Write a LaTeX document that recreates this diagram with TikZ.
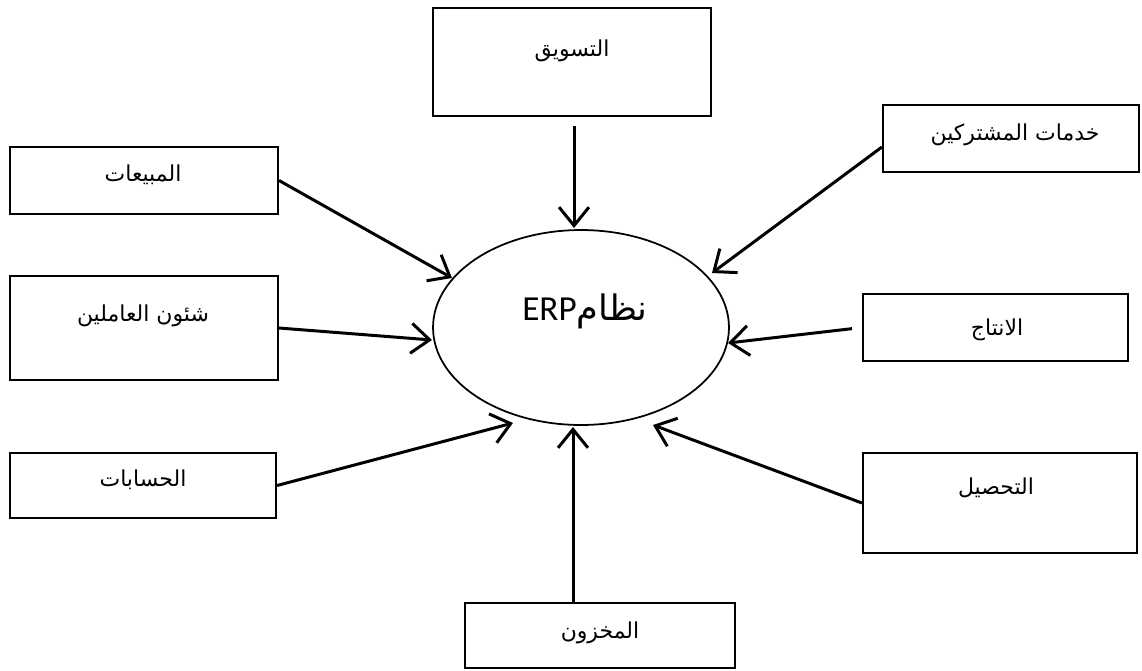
\documentclass[tikz,border=0pt]{standalone}
\usepackage{fontspec}
\setmainfont{Liberation Sans}
\newfontfamily\arabicfont[Script=Arabic]{DejaVu Sans}
\newfontfamily\latinfont{Carlito}
\TeXXeTstate=1
\usetikzlibrary{arrows.meta,shapes.geometric,fit}
\begin{document}
\begin{tikzpicture}[x=0.02cm,y=-0.02cm,
  box/.style={draw, line width=1.2pt, inner sep=0pt, fit=#1},
  lbl/.style={font=\arabicfont\fontsize{12.5}{15}\selectfont, inner sep=0pt},
  arr/.style={line width=1.7pt, -{Straight Barb[length=10.5pt,width=17pt,line width=1.7pt]}},
]
\useasboundingbox (0,0) rectangle (1142,670);

% central ellipse
\node[draw, ellipse, line width=1pt, minimum width=5.92cm, minimum height=3.9cm,
      inner sep=0pt] (erp) at (581,327.5) {};
\node[inner sep=0pt, font=\fontsize{20}{24}\selectfont] (erptext) at (585,311)
  {\arabicfont\beginR نظام\beginL\latinfont ERP\endL\endR};

% department boxes
\coordinate (mktA) at (433,8);    \coordinate (mktB) at (711,116);
\coordinate (svcA) at (883,105);  \coordinate (svcB) at (1139,172);
\coordinate (salA) at (10,147);   \coordinate (salB) at (278,214);
\coordinate (hrA)  at (10,276);   \coordinate (hrB)  at (278,380);
\coordinate (accA) at (10,453);   \coordinate (accB) at (276,518);
\coordinate (prdA) at (863,294);  \coordinate (prdB) at (1128,361);
\coordinate (colA) at (863,453);  \coordinate (colB) at (1137,553);
\coordinate (invA) at (465,603);  \coordinate (invB) at (735,668);

\node[box={(mktA)(mktB)}] (mkt) {};
\node[box={(svcA)(svcB)}] (svc) {};
\node[box={(salA)(salB)}] (sales) {};
\node[box={(hrA)(hrB)}] (hr) {};
\node[box={(accA)(accB)}] (acc) {};
\node[box={(prdA)(prdB)}] (prod) {};
\node[box={(colA)(colB)}] (coll) {};
\node[box={(invA)(invB)}] (inv) {};

% box captions
\node[lbl] (mkttext) at (572,51)   {\beginR التسويق\endR};
\node[lbl] (svctext) at (1015,135) {\beginR خدمات المشتركين\endR};
\node[lbl] (saltext) at (143,175)  {\beginR المبيعات\endR};
\node[lbl] (hrtext)  at (143,316)  {\beginR شئون العاملين\endR};
\node[lbl] (acctext) at (143,480)  {\beginR الحسابات\endR};
\node[lbl] (prdtext) at (997,330)  {\beginR الانتاج\endR};
\node[lbl] (coltext) at (996,488)  {\beginR التحصيل\endR};
\node[lbl] (invtext) at (600,633)  {\beginR المخزون\endR};

% arrow tips around the ellipse
\coordinate (tmkt) at (574,228);
\coordinate (tsal) at (452,278);
\coordinate (tsvc) at (712,273);
\coordinate (thr)  at (432,340);
\coordinate (tprd) at (728,343);
\coordinate (tacc) at (513,423);
\coordinate (tcol) at (653,425);
\coordinate (tinv) at (573,427);

% connectors
\draw[arr, shorten <=0.18cm] (tmkt |- mkt.south) -- (tmkt);
\draw[arr] (sales.east) -- (tsal);
\draw[arr] ([yshift=-0.17cm]svc.west) -- (tsvc);
\draw[arr] (hr.east) -- (thr);
\draw[arr, shorten <=0.2cm] (prod.west) -- (tprd);
\draw[arr] (acc.east) -- (tacc);
\draw[arr] (coll.west) -- (tcol);
\draw[arr] (tinv |- inv.north) -- (tinv);
\end{tikzpicture}
\end{document}
